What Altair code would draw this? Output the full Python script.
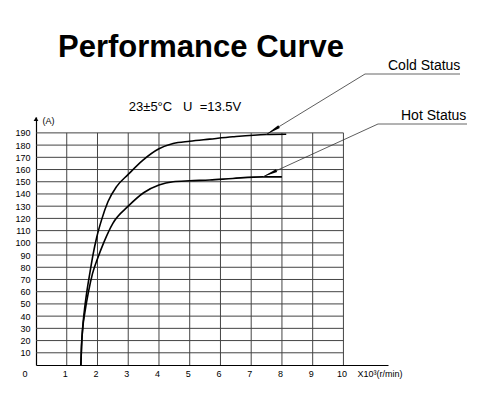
import math
import altair as alt
import pandas as pd

# ---------------- data ----------------
cold_x = [1.46, 1.48, 1.53, 1.59, 1.66, 1.75, 1.86, 1.97, 2.13, 2.34, 2.62, 3.0, 3.48, 4.0, 4.46, 5.0, 5.65, 6.4, 7.49, 8.14]
cold_y = [0, 15, 34, 48, 61, 75, 91, 104, 118.6, 133.6, 146, 156, 167.7, 177, 181.3, 183.2, 184.9, 186.8, 188.7, 188.9]
hot_x = [1.46, 1.48, 1.52, 1.59, 1.7, 1.84, 2.0, 2.2, 2.5, 3.0, 3.5, 4.0, 4.46, 5.0, 5.65, 6.4, 7.38, 8.0]
hot_y = [0, 15, 30, 43, 59, 75, 87, 100, 116, 130, 141, 147.3, 150, 150.8, 151.4, 152.7, 154, 154]
series_names = ["Cold Status", "Hot Status"]
tip_x = [7.49, 7.38]
tip_y = [188.7, 154.0]

x_ticks = [1, 2, 3, 4, 5, 6, 7, 8, 9, 10]
y_ticks = [10, 20, 30, 40, 50, 60, 70, 80, 90, 100, 110, 120, 130, 140, 150, 160, 170, 180, 190]
x_grid_max = 10
y_grid_max = 190
origin_label = ["0"]
title_text = ["Performance Curve"]
cond_text = ["23±5°C\u00a0\u00a0\u00a0U\u00a0\u00a0=13.5V"]
x_title = "X10³(r/min)"
y_title = "(A)"

# ---------------- layout ----------------
W, H = 352, 248
XD = [0, 11.45]
YD = [0, 203]
FONT = "Liberation Sans, Arial, sans-serif"
GRID = "#444444"

xs = alt.Scale(domain=XD, nice=False, zero=False)
ys = alt.Scale(domain=YD, nice=False, zero=False)

x_axis = alt.Axis(values=x_ticks, grid=False, ticks=False, tickSize=0, domainColor="black",
                  domainWidth=1.2, labelFont=FONT, labelFontSize=9, labelColor="black",
                  labelPadding=4, labelOffset=-2, labelOverlap=False, labelSeparation=0,
                  title=x_title, titleFont=FONT,
                  titleFontSize=9, titleFontWeight="normal", titleColor="black",
                  titleAlign="left", titleBaseline="top", titleX=321, titleY=4)
y_axis = alt.Axis(values=y_ticks, grid=False, ticks=False, tickSize=0, domainColor="black",
                  domainWidth=1.2, labelFont=FONT, labelFontSize=9, labelColor="black",
                  labelPadding=6, labelOverlap=False, labelSeparation=0,
                  title=y_title, titleFont=FONT, titleFontSize=9,
                  titleFontWeight="normal", titleColor="black", titleAngle=0,
                  titleAlign="left", titleBaseline="middle", titleX=6, titleY=3)


def X(field):
    return alt.X(field, type="quantitative", scale=xs, axis=x_axis)


def Y(field):
    return alt.Y(field, type="quantitative", scale=ys, axis=y_axis)


# grid
vgrid_df = pd.DataFrame({"x": x_ticks, "y0": [0] * len(x_ticks), "y1": [y_grid_max] * len(x_ticks)})
hgrid_df = pd.DataFrame({"y": y_ticks, "x0": [0] * len(y_ticks), "x1": [x_grid_max] * len(y_ticks)})

vgrid = alt.Chart(vgrid_df).mark_rule(color=GRID, strokeWidth=1).encode(
    x=X("x"), y=Y("y0"), y2="y1:Q")
hgrid = alt.Chart(hgrid_df).mark_rule(color=GRID, strokeWidth=1).encode(
    y=Y("y"), x=X("x0"), x2="x1:Q")

curve_df = pd.concat([
    pd.DataFrame({"x": cold_x, "y": cold_y, "s": series_names[0]}),
    pd.DataFrame({"x": hot_x, "y": hot_y, "s": series_names[1]}),
])
curves = alt.Chart(curve_df).mark_line(color="black", strokeWidth=1.6, interpolate="monotone").encode(
    x=X("x"), y=Y("y"), detail="s:N")

# annotation label placement (pixels relative to the plot area)
label_pos = [(352, -47), (365, 3)]
under_pos = [(329, -43, 424), (342, 7, 431)]

layers = [vgrid, hgrid, curves]


def px(xv):
    return (xv - XD[0]) / (XD[1] - XD[0]) * W


def py(yv):
    return H - (yv - YD[0]) / (YD[1] - YD[0]) * H


for i, name in enumerate(series_names):
    tx, ty = tip_x[i], tip_y[i]
    ux, uy, ux2 = under_pos[i]
    dx, dy = px(tx) - ux, py(ty) - uy
    n = math.hypot(dx, dy)
    ang = math.degrees(math.atan2(dx / n, -dy / n)) % 360
    one = pd.DataFrame({"x": [tx], "y": [ty], "t": [name]})
    leader = alt.Chart(one).mark_rule(color="#333333", strokeWidth=0.8).encode(
        x=X("x"), y=Y("y"), x2=alt.value(ux), y2=alt.value(uy))
    head = alt.Chart(one).mark_point(shape="M0,0L0.2,2L-0.2,2Z", filled=True, size=225,
                                     color="black", opacity=1, angle=ang, strokeWidth=0).encode(
        x=X("x"), y=Y("y"))
    under = alt.Chart(one).mark_rule(color="#555555", strokeWidth=0.9).encode(
        x=alt.value(ux), x2=alt.value(ux2), y=alt.value(uy))
    lab = alt.Chart(one).mark_text(font=FONT, fontSize=14, align="left", baseline="alphabetic",
                                   color="black").encode(
        x=alt.value(label_pos[i][0]), y=alt.value(label_pos[i][1]), text="t:N")
    layers += [leader, head, under, lab]

# origin "0" label
origin = alt.Chart(pd.DataFrame({"x": [0], "y": [0], "t": origin_label})).mark_text(
    font=FONT, fontSize=9, align="center", baseline="top", dx=-11, dy=5, color="black").encode(
    x=X("x"), y=Y("y"), text="t:N")

# arrow on top of y axis
yarrow = alt.Chart(pd.DataFrame({"x": [XD[0]], "y": [YD[1]]})).mark_point(
    shape="triangle-up", filled=True, size=22, color="black", opacity=1, yOffset=2).encode(
    x=X("x"), y=Y("y"))

title = alt.Chart(pd.DataFrame({"t": title_text})).mark_text(
    font=FONT, fontSize=31, fontWeight="bold", align="center", baseline="alphabetic",
    color="black").encode(x=alt.value(165), y=alt.value(-60), text="t:N")

cond = alt.Chart(pd.DataFrame({"t": cond_text})).mark_text(
    font=FONT, fontSize=13, align="center", baseline="alphabetic", color="black").encode(
    x=alt.value(149), y=alt.value(-6), text="t:N")

layers += [origin, yarrow, title, cond]

chart = alt.layer(*layers).properties(
    width=W, height=H,
    autosize=alt.AutoSizeParams(type="none"),
    padding={"left": 28, "top": 109, "right": 84, "bottom": 27},
    background="white",
).configure_view(stroke="transparent").configure_axis(labelOverlap=False)

chart.save("out.html", embed_options={"renderer": "svg", "actions": False})
